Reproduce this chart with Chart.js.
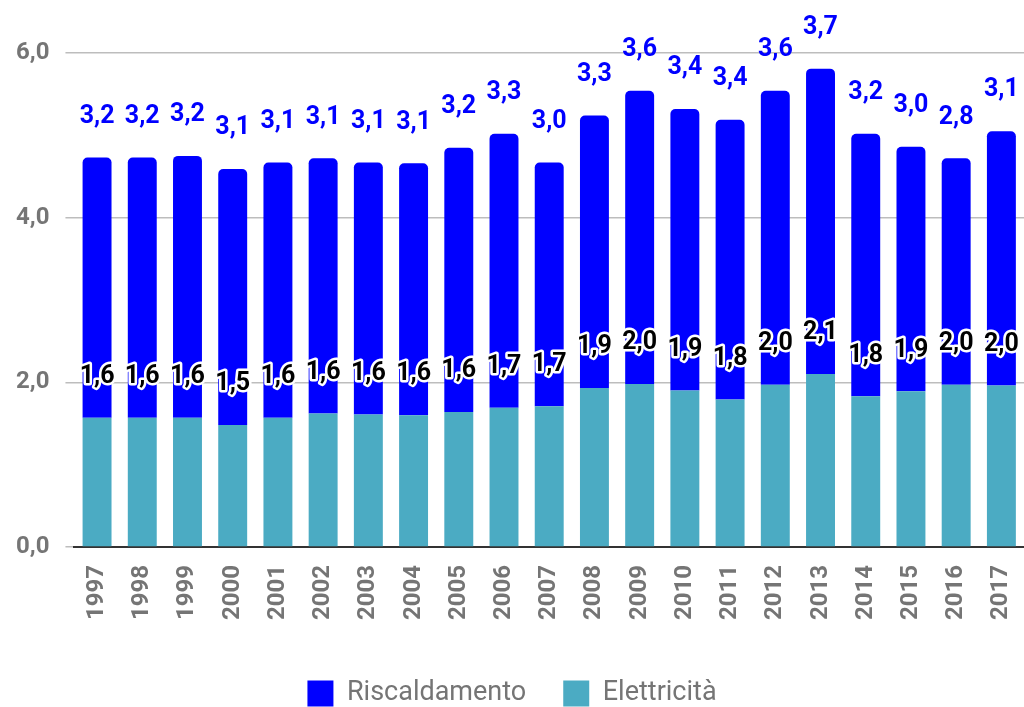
<!DOCTYPE html>
<html>
<head>
<meta charset="utf-8">
<script src="https://cdn.jsdelivr.net/npm/chart.js@4"></script>
<style>
  html, body { margin: 0; padding: 0; background: #fff; }
  #wrap { width: 1024px; height: 707px; position: relative; }
</style>
</head>
<body>
<div id="wrap"><canvas id="chart"></canvas></div>
<script>
const years = ['1997', '1998', '1999', '2000', '2001', '2002', '2003', '2004', '2005', '2006', '2007',
    '2008', '2009', '2010', '2011', '2012', '2013', '2014', '2015', '2016', '2017']
const elettricita = [1.57, 1.57, 1.57, 1.48, 1.57, 1.62, 1.61, 1.60, 1.64, 1.69, 1.71,
    1.93, 1.98, 1.90, 1.79, 1.97, 2.10, 1.83, 1.89, 1.97, 1.96]
const riscaldamento = [3.16, 3.16, 3.18, 3.11, 3.10, 3.10, 3.06, 3.06, 3.21, 3.33, 2.96,
    3.31, 3.56, 3.42, 3.40, 3.57, 3.71, 3.19, 2.97, 2.75, 3.09]
const yTicks = [0, 2, 4, 6]

const fmt = v => v.toFixed(1).replace('.', ',')

// value labels drawn above each segment top
const valueLabels = {
    id: 'valueLabels',
    afterDatasetsDraw(chart) {
        const ctx = chart.ctx
        ctx.save()
        ctx.font = 'bold 25px Roboto'
        ctx.textAlign = 'center'
        ctx.textBaseline = 'middle'
        chart.data.datasets.forEach((ds, i) => {
            const meta = chart.getDatasetMeta(i)
            meta.data.forEach((bar, j) => {
                const y = bar.y - 41
                const txt = fmt(ds.data[j])
                if (ds.label === 'Elettricità') {
                    ctx.lineJoin = 'round'
                    ctx.lineWidth = 5
                    ctx.strokeStyle = '#ffffff'
                    ctx.strokeText(txt, bar.x, y)
                    ctx.fillStyle = '#000000'
                } else {
                    ctx.fillStyle = '#0000ff'
                }
                ctx.fillText(txt, bar.x, y)
            })
        })
        ctx.restore()
    }
}

new Chart(document.getElementById('chart'), {
    type: 'bar',
    data: {
        labels: years,
        datasets: [{
            label: 'Elettricità',
            data: elettricita,
            backgroundColor: '#4babc3',
            barPercentage: 0.64,
            categoryPercentage: 1,
            borderRadius: 0
        }, {
            label: 'Riscaldamento',
            data: riscaldamento,
            backgroundColor: '#0000ff',
            barPercentage: 0.64,
            categoryPercentage: 1,
            borderRadius: { topLeft: 5, topRight: 5, bottomLeft: 0, bottomRight: 0 },
            borderSkipped: false
        }]
    },
    options: {
        responsive: true,
        maintainAspectRatio: false,
        animation: false,
        layout: { padding: { top: 53, right: 0, left: 0, bottom: -10 } },
        plugins: {
            tooltip: { enabled: false },
            legend: {
                position: 'bottom',
                reverse: true,
                labels: {
                    font: { family: 'Roboto', size: 27 },
                    color: '#757575',
                    boxWidth: 26,
                    boxHeight: 26,
                    padding: 37
                }
            }
        },
        scales: {
            x: {
                stacked: true,
                grid: { display: false },
                border: { color: '#333333', width: 2 },
                afterFit: s => {
                    s.height += 13
                    s.paddingRight = 0
                },
                ticks: {
                    font: { family: 'Roboto', size: 24, weight: 'bold' },
                    color: '#757575',
                    minRotation: 90,
                    maxRotation: 90,
                    padding: 10
                }
            },
            y: {
                stacked: true,
                min: 0,
                max: 6,
                afterBuildTicks: axis => { axis.ticks = yTicks.map(v => ({ value: v })) },
                grid: { color: '#bdbdbd', lineWidth: 1.5, tickLength: 9 },
                border: { display: false },
                ticks: {
                    font: { family: 'Roboto', size: 24, weight: 'bold' },
                    color: '#757575',
                    padding: 16,
                    callback: v => fmt(v)
                }
            }
        }
    },
    plugins: [valueLabels]
})
</script>
</body>
</html>
